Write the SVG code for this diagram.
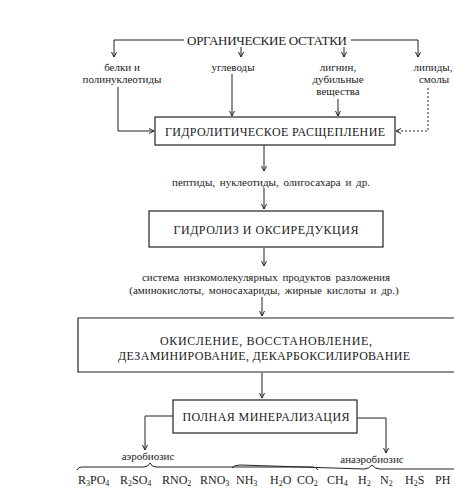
<svg xmlns="http://www.w3.org/2000/svg" width="454" height="490" viewBox="0 0 454 490">
<style>
text{font-family:'Liberation Serif','DejaVu Serif','Times New Roman',serif;fill:#222;}
.t{font-size:13px;text-anchor:middle;}
.l{font-size:11px;text-anchor:middle;}
.c{font-size:12px;text-anchor:middle;}
.f{font-size:12px;}
.s{font-size:8px;}
line,path,polyline,rect{stroke:#222;stroke-width:1;fill:none;}
.b{stroke-width:1.2;}
.d{stroke-dasharray:2 2;}
</style>
<defs>
<marker id="a" markerWidth="6" markerHeight="6" refX="5" refY="3" orient="auto" markerUnits="userSpaceOnUse">
<path d="M0,0.5 L5,3 L0,5.5" style="fill:none;stroke:#222;stroke-width:1"/>
</marker>
</defs>
<rect x="0" y="0" width="454" height="490" style="fill:#fff;stroke:none"/>

<g id="connectors">
<polyline points="184,40 114,40 114,57" marker-end="url(#a)"/>
<polyline points="351,40 418,40 418,57" marker-end="url(#a)"/>
<line x1="241" y1="47" x2="241" y2="57" marker-end="url(#a)"/>
<line x1="344" y1="47" x2="344" y2="57" marker-end="url(#a)"/>
<polyline points="118,87 118,131 154,131" marker-end="url(#a)"/>
<line x1="232" y1="74" x2="232" y2="116" marker-end="url(#a)"/>
<line x1="338" y1="99" x2="338" y2="116" marker-end="url(#a)"/>
<polyline class="d" points="428,88 428,131 396,131" marker-end="url(#a)"/>
<line x1="264" y1="145" x2="264" y2="171" marker-end="url(#a)"/>
<line x1="264" y1="188" x2="264" y2="209" marker-end="url(#a)"/>
<line x1="264" y1="248" x2="264" y2="266" marker-end="url(#a)"/>
<line x1="262" y1="297" x2="262" y2="316" marker-end="url(#a)"/>
<line x1="262" y1="373" x2="262" y2="398" marker-end="url(#a)"/>
<polyline points="173,416 145,416 145,450" marker-end="url(#a)"/>
<polyline points="357,418 386,418 386,453" marker-end="url(#a)"/>
<path d="M77,470 Q78,467 82,467 L144,467 Q148,467 150,463 Q152,467 156,467 L312,467 Q317,467 318,470"/>
<path d="M232,468 Q234,465 240,465 L364,469 Q369,469 372,465 Q375,469 380,469 L454,469"/>
</g>

<g id="n_top">
<text class="t" x="267" y="45" textLength="160" lengthAdjust="spacing">ОРГАНИЧЕСКИЕ ОСТАТКИ</text>
</g>
<g id="n_belki">
<text class="l" x="122" y="71">белки и</text>
<text class="l" x="122" y="83">полинуклеотиды</text>
</g>
<g id="n_ugl">
<text class="l" x="233" y="71">углеводы</text>
</g>
<g id="n_lignin">
<text class="l" x="338" y="71">лигнин,</text>
<text class="l" x="338" y="83">дубильные</text>
<text class="l" x="338" y="95">вещества</text>
</g>
<g id="n_lipid">
<text class="l" x="433" y="71">липиды,</text>
<text class="l" x="434" y="83">смолы</text>
</g>
<g id="n_hydro">
<rect class="b" x="155" y="117" width="240" height="28"/>
<text class="c" x="275" y="136" textLength="220" lengthAdjust="spacing">ГИДРОЛИТИЧЕСКОЕ РАСЩЕПЛЕНИЕ</text>
</g>
<g id="n_pept">
<text class="l" x="271" y="186" style="word-spacing:2px">пептиды, нуклеотиды, олигосахара и др.</text>
</g>
<g id="n_gidroliz">
<rect class="b" x="149" y="211" width="234" height="36"/>
<text class="c" x="266" y="234" textLength="185" lengthAdjust="spacing">ГИДРОЛИЗ И ОКСИРЕДУКЦИЯ</text>
</g>
<g id="n_sys">
<text class="l" x="266" y="281" style="word-spacing:2px">система низкомолекулярных продуктов разложения</text>
<text class="l" x="264" y="294" style="word-spacing:2px">(аминокислоты, моносахариды, жирные кислоты и др.)</text>
</g>
<g id="n_oks">
<polyline class="b" points="454,318 78,318 78,372 454,372"/>
<text class="c" x="266" y="345" textLength="212" lengthAdjust="spacing">ОКИСЛЕНИЕ, ВОССТАНОВЛЕНИЕ,</text>
<text class="c" x="264" y="360" textLength="292" lengthAdjust="spacing">ДЕЗАМИНИРОВАНИЕ, ДЕКАРБОКСИЛИРОВАНИЕ</text>
</g>
<g id="n_min">
<rect class="b" x="173" y="400" width="184" height="33"/>
<text class="c" x="266" y="421" textLength="167" lengthAdjust="spacing">ПОЛНАЯ МИНЕРАЛИЗАЦИЯ</text>
</g>
<g id="n_aer">
<text class="l" x="148" y="460">аэробиозис</text>
</g>
<g id="n_anaer">
<text class="l" x="372" y="463">анаэробиозис</text>
</g>
<g id="n_products">
<text class="f" x="78" y="484">R<tspan class="s" dy="2">3</tspan><tspan dy="-2">PO</tspan><tspan class="s" dy="2">4</tspan></text>
<text class="f" x="120" y="484">R<tspan class="s" dy="2">2</tspan><tspan dy="-2">SO</tspan><tspan class="s" dy="2">4</tspan></text>
<text class="f" x="162" y="484">RNO<tspan class="s" dy="2">2</tspan></text>
<text class="f" x="200" y="484">RNO<tspan class="s" dy="2">3</tspan></text>
<text class="f" x="236" y="484">NH<tspan class="s" dy="2">3</tspan></text>
<text class="f" x="270" y="484">H<tspan class="s" dy="2">2</tspan><tspan dy="-2">O</tspan></text>
<text class="f" x="297" y="484">CO<tspan class="s" dy="2">2</tspan></text>
<text class="f" x="327" y="484">CH<tspan class="s" dy="2">4</tspan></text>
<text class="f" x="358" y="484">H<tspan class="s" dy="2">2</tspan></text>
<text class="f" x="380" y="484">N<tspan class="s" dy="2">2</tspan></text>
<text class="f" x="405" y="484">H<tspan class="s" dy="2">2</tspan><tspan dy="-2">S</tspan></text>
<text class="f" x="435" y="484">PH</text>
</g>
</svg>
